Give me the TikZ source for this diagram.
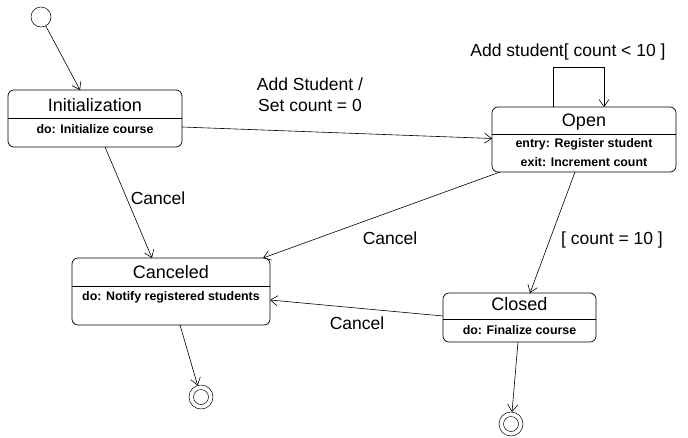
\documentclass[tikz,border=0pt]{standalone}
\usepackage{fontspec}
\setmainfont{Liberation Sans}
\usetikzlibrary{arrows.meta}
\begin{document}
\begin{tikzpicture}[x=1pt,y=-1pt,
  every node/.style={inner sep=0pt,outer sep=0pt},
  statebox/.style={draw,line width=0.7pt,rounded corners=6pt,rectangle},
  sname/.style={font=\fontsize{18}{18}\selectfont},
  sact/.style={font=\bfseries\fontsize{12.4}{12.4}\selectfont},
  lbl/.style={font=\fontsize{17.5}{21}\selectfont,align=center},
  tr/.style={draw,line width=0.6pt,-{Straight Barb[length=7pt,width=10pt]}},
  pseudo/.style={draw,circle,line width=0.5pt}
]
\useasboundingbox (0,0) rectangle (688,437);
% initial
\node[pseudo,minimum size=20pt] (start) at (41,17) {};
% states
\node[statebox,minimum width=174pt,minimum height=57pt] (init) at (95,118.5) {};
\node[sname] (initn) at (95,105) {Initialization};
\node[sact] (inita) at (95,129.5) {do: Initialize course};
\draw[line width=0.6pt] (init.west |- 0,118) -- (init.east |- 0,118);

\node[statebox,minimum width=184pt,minimum height=65pt] (open) at (584,139.5) {};
\node[sname] (openn) at (584,122) {Open};
\node[sact] (opena) at (584,144) {entry: Register student};
\node[sact] (openb) at (584,162) {exit: Increment count};
\draw[line width=0.6pt] (open.west |- 0,134) -- (open.east |- 0,134);

\node[statebox,minimum width=198pt,minimum height=67pt] (canc) at (171,291.5) {};
\node[sname] (cancn) at (171,272) {Canceled};
\node[sact] (canca) at (171,297.5) {do: Notify registered students};
\draw[line width=0.6pt] (canc.west |- 0,286) -- (canc.east |- 0,286);

\node[statebox,minimum width=153pt,minimum height=49pt] (closed) at (519.5,317.5) {};
\node[sname] (closedn) at (519.5,304) {Closed};
\node[sact] (closeda) at (519.5,330.5) {do: Finalize course};
\draw[line width=0.6pt] (closed.west |- 0,319) -- (closed.east |- 0,319);

% finals
\node[pseudo,minimum size=24pt] (fin1) at (201,397) {};
\node[pseudo,minimum size=15pt] (fin1i) at (201,397) {};
\node[pseudo,minimum size=24pt] (fin2) at (511,424) {};
\node[pseudo,minimum size=15pt] (fin2i) at (511,424) {};

% transitions
\draw[tr] (start) -- ([xshift=-15pt]init.north);
\draw[tr] ([yshift=-8.5pt]init.east) -- ([yshift=1pt]open.west);
\node[lbl] (l1) at (310,95) {Add Student /\\Set count = 0};
\draw[tr] ([xshift=-31pt]open.north) -- ++(0,-40) -| ([xshift=20pt]open.north);
\node[lbl] (l2) at (568,52) {Add student[ count < 10 ]};
\draw[tr] ([xshift=10pt]init.south) -- ([xshift=-19pt]canc.north);
\node[lbl] (l3) at (158,198) {Cancel};
\draw[tr] ([xshift=-84pt]open.south) -- ([xshift=-7pt]canc.north east);
\node[lbl] (l4) at (390,238) {Cancel};
\draw[tr] ([xshift=-9pt]open.south) -- ([xshift=10.5pt]closed.north);
\node[lbl] (l5) at (612,240) {[ count = 10 ]};
\draw[tr] ([yshift=1.5pt]closed.west) -- ([yshift=-8.5pt]canc.east);
\node[lbl] (l6) at (357,323) {Cancel};
\draw[tr] ([xshift=9pt]canc.south) -- (fin1);
\draw[tr] ([xshift=-1.5pt]closed.south) -- (fin2);
\end{tikzpicture}
\end{document}
